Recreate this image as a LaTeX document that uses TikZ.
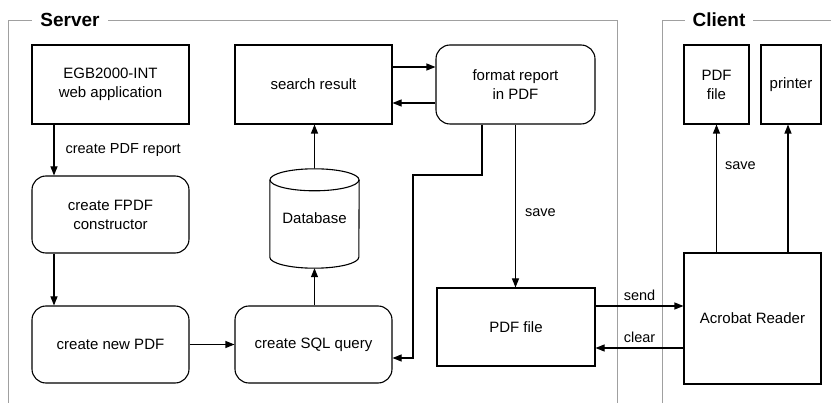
\documentclass[tikz,border=0pt]{standalone}
\usepackage{fontspec}
\setmainfont{Liberation Sans}
\usetikzlibrary{positioning, arrows.meta, calc}
\definecolor{frameGray}{HTML}{A0A0A0}

\begin{document}
\begin{tikzpicture}[
  x=1pt, y=-1pt,
  box/.style={draw, line width=1.1pt, minimum width=157pt, minimum height=79pt,
              align=center, inner sep=2pt, font=\fontsize{15}{19}\selectfont},
  rbox/.style={box, rounded corners=14pt},
  dbbox/.style={minimum width=89pt, minimum height=100pt, inner sep=0pt,
                font=\fontsize{15}{19}\selectfont},
  arr/.style={line width=1.1pt, -{Triangle[length=9pt, width=7pt]}},
  lbl/.style={font=\fontsize{14.5}{17}\selectfont, inner sep=2pt},
  frame/.style={draw=frameGray, line width=0.9pt},
  framelabel/.style={fill=white, font=\fontsize{19}{22}\selectfont\bfseries,
                     inner xsep=8pt, inner ysep=1pt},
]
  \useasboundingbox (0,0) rectangle (831,403);

  % FRAMES
  \draw[frame] (8,410) -- (8,20) -- (617,20) -- (617,410);
  \draw[frame] (662,410) -- (662,20) -- (840,20);
  \node[framelabel] (srv) at (70,20) {Server};
  \node[framelabel] (cli) at (719,20) {Client};

  % SERVER
  \node[box] (web) at (110.5,84.5) {EGB2000-INT\\web application};
  \node[box] (result) at (313.5,84.5) {search result};
  \node[rbox, minimum width=159pt] (format) at (515.5,84.5) {format report\\in PDF};
  \node[rbox, minimum height=77pt] (fpdf) at (110.5,214.5) {create FPDF\\constructor};
  \node[dbbox] (db) at (314.5,218) {Database};
  \node[rbox, minimum height=77pt] (newpdf) at (110.5,344.5) {create new PDF};
  \node[rbox, minimum height=77pt] (sql) at (313.5,344.5) {create SQL query};
  \node[box, minimum width=158pt, minimum height=78pt] (pdffile) at (516,327) {PDF file};

  % database drum
  \draw[line width=1.1pt] ([yshift=-12pt]db.north west) -- ([yshift=11pt]db.south west)
    arc[start angle=180, end angle=360, x radius=44.5pt, y radius=11pt]
    -- ([yshift=-12pt]db.north east);
  \draw[line width=1.1pt] ([yshift=-12pt]db.north) ellipse [x radius=44.5pt, y radius=11pt];

  % CLIENT
  \node[box, minimum width=65pt] (cpdf) at (716.5,84.5) {PDF\\file};
  \node[box, minimum width=60pt] (printer) at (791,84.5) {printer};
  \node[box, minimum width=137pt, minimum height=131pt] (reader) at (752.5,318.5) {Acrobat Reader};

  % ARROWS
  \draw[arr] ([xshift=-56.5pt]web.south) -- ([xshift=-56.5pt]fpdf.north)
    node[lbl, midway, right=9pt] {create PDF report};
  \draw[arr] ([xshift=-56.5pt]fpdf.south) -- ([xshift=-56.5pt]newpdf.north);
  \draw[arr] (newpdf) -- (sql);
  \draw[arr] (db.south |- sql.north) -- (db.south);
  \draw[arr] (db.north) -- (db.north |- result.south);
  \draw[arr] ([yshift=17.5pt]result.east) -- ([yshift=17.5pt]format.west);
  \draw[arr] ([yshift=-18.5pt]format.west) -- ([yshift=-18.5pt]result.east);
  \coordinate (turn) at (413,175);
  \draw[arr] ([xshift=-33.5pt]format.south) |- (turn) |- ([yshift=-13.5pt]sql.east);
  \draw[arr] (format.south) -- (format.south |- pdffile.north)
    node[lbl, pos=0.54, right=7pt] {save};
  \draw[arr] ([yshift=21pt]pdffile.east) -- ([yshift=21pt]pdffile.east -| reader.west)
    node[lbl, midway, above=3pt] {send};
  \draw[arr] ([yshift=-21pt]pdffile.east -| reader.west) -- ([yshift=-21pt]pdffile.east)
    node[lbl, midway, above=3pt] {clear};
  \draw[arr] (cpdf.south |- reader.north) -- (cpdf.south)
    node[lbl, pos=0.68, right=6pt] {save};
  \draw[arr] ([xshift=-3pt]printer.south |- reader.north) -- ([xshift=-3pt]printer.south);
\end{tikzpicture}
\end{document}
